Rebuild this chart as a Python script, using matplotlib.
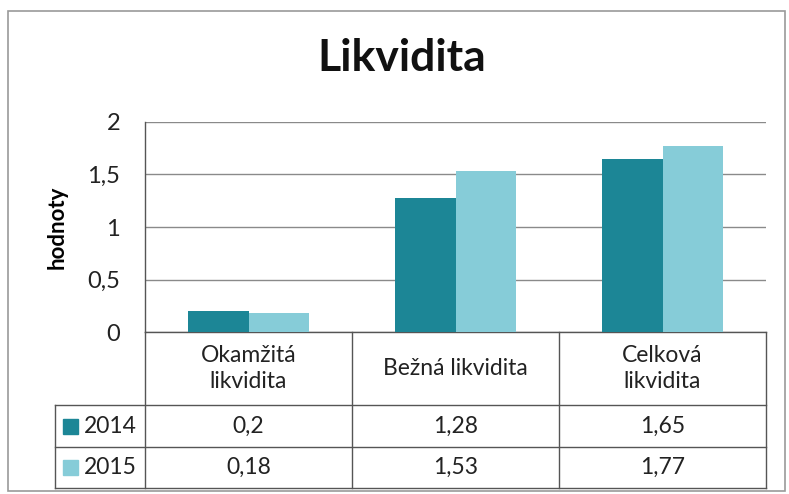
import matplotlib
matplotlib.use("Agg")
import matplotlib.pyplot as plt
from matplotlib.transforms import blended_transform_factory
from matplotlib.lines import Line2D
from matplotlib.patches import Rectangle

plt.rcParams['font.family'] = ['Lato', 'DejaVu Sans']

categories = ["Okamžitá\nlikvidita", "Bežná likvidita", "Celková\nlikvidita"]
series_names = ["2014", "2015"]
values_2014 = [0.2, 1.28, 1.65]
values_2015 = [0.18, 1.53, 1.77]
value_labels_2014 = ["0,2", "1,28", "1,65"]
value_labels_2015 = ["0,18", "1,53", "1,77"]
yticks = [0, 0.5, 1, 1.5, 2]
ytick_labels = ["0", "0,5", "1", "1,5", "2"]
colors = ["#1c8696", "#86ccd8"]

W, H = 789, 494
fig = plt.figure(figsize=(W / 100, H / 100), dpi=100)
fig.patch.set_facecolor("white")

ax_l, ax_r, ax_t, ax_b = 145, 766, 122, 332
ax = fig.add_axes([ax_l / W, 1 - ax_b / H, (ax_r - ax_l) / W, (ax_b - ax_t) / H])

n = len(categories)
xs = list(range(n))
bw = 0.29
ax.bar([x - bw / 2 for x in xs], values_2014, width=bw, color=colors[0], zorder=3)
ax.bar([x + bw / 2 for x in xs], values_2015, width=bw, color=colors[1], zorder=3)

ax.set_xlim(-0.5, n - 0.5)
ax.set_ylim(0, 2)
ax.set_yticks(yticks)
ax.set_yticklabels(ytick_labels, fontsize=17, color="#222222")
ax.tick_params(axis="y", length=0, pad=18)
ax.set_xticks([])
ax.grid(axis="y", color="#8a8a8a", linewidth=1.0, zorder=0)
for s in ["top", "right", "bottom"]:
    ax.spines[s].set_visible(False)
ax.spines["left"].set_color("#555555")
ax.spines["left"].set_linewidth(1.0)
ax.set_ylabel("hodnoty", fontsize=16, fontweight="bold", labelpad=14)

fig.text(402 / W, 1 - 58 / H, "Likvidita", fontsize=32, fontweight="bold",
         ha="center", va="center", color="#111111")

# Data table
tr = blended_transform_factory(ax.transData, ax.transAxes)
px = 1.0 / (ax_b - ax_t)  # axes fraction per pixel
unit = (ax_r - ax_l) / n
y_cat_bot = -(405 - ax_b) * px
y_r1_bot = -(447 - ax_b) * px
y_r2_bot = -(488 - ax_b) * px
x_hdr = -0.5 - (ax_l - 55) / unit
lc = "#555555"
lw = 1.0

def line(xd, yd):
    ax.add_line(Line2D(xd, yd, transform=tr, color=lc, linewidth=lw, clip_on=False))

line([-0.5, n - 0.5], [0, 0])
for yb in (y_cat_bot, y_r1_bot, y_r2_bot):
    line([x_hdr, n - 0.5], [yb, yb])
line([-0.5, -0.5], [0, y_r2_bot])
line([x_hdr, x_hdr], [y_cat_bot, y_r2_bot])
for i in range(1, n + 1):
    line([i - 0.5, i - 0.5], [0, y_r2_bot])

for i, c in enumerate(categories):
    ax.text(i, y_cat_bot / 2, c, transform=tr, ha="center", va="center",
            fontsize=16.5, color="#222222", linespacing=1.3)
rows = [(y_cat_bot, y_r1_bot, value_labels_2014), (y_r1_bot, y_r2_bot, value_labels_2015)]
for (yt, yb, labs), name, col in zip(rows, series_names, colors):
    yc = (yt + yb) / 2
    for i, lab in enumerate(labs):
        ax.text(i, yc, lab, transform=tr, ha="center", va="center",
                fontsize=16.5, color="#222222")
    sq = 15 * px
    ax.add_patch(Rectangle((x_hdr + 8 / unit, yc - sq / 2), 15 / unit, sq,
                           transform=tr, color=col, clip_on=False))
    ax.text(x_hdr + 29 / unit, yc, name, transform=tr, ha="left", va="center",
            fontsize=16.5, color="#222222")

# outer border of chart area
fig.add_artist(Rectangle((8 / W, 3 / H), (W - 12) / W, (H - 14) / H,
                         transform=fig.transFigure, fill=False,
                         edgecolor="#9a9a9a", linewidth=1.2))

fig.savefig("out.png", dpi=100, facecolor="white")
